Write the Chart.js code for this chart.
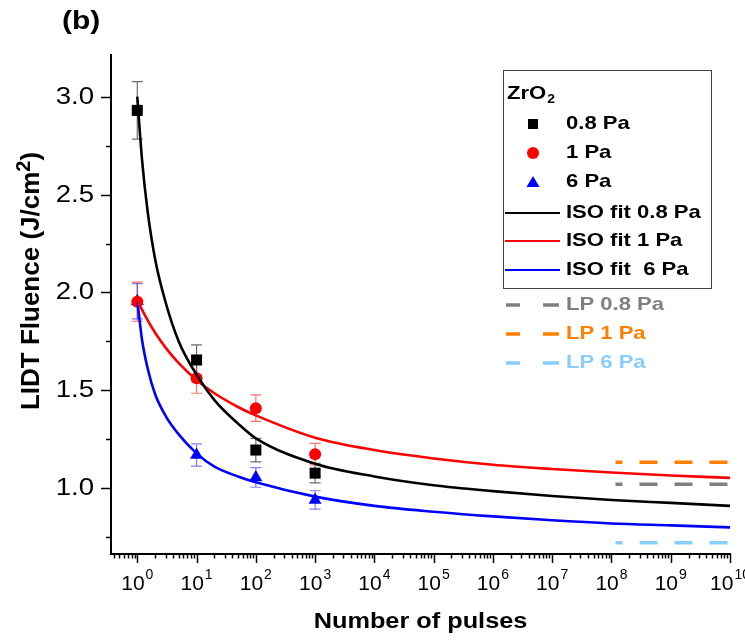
<!DOCTYPE html>
<html>
<head>
<meta charset="utf-8">
<script src="https://cdn.jsdelivr.net/npm/chart.js@4.4.1/dist/chart.umd.min.js"></script>
<style>
  html, body { margin: 0; padding: 0; background: #fff; }
</style>
</head>
<body>
<canvas id="lidtChart" width="745" height="642"></canvas>
<script>
// measured points (number of pulses vs LIDT fluence)
const pulses = [1, 10, 100, 1000];
const lidt08 = [2.93, 1.655, 1.195, 1.077];
const err08 = [0.147, 0.077, 0.06, 0.05];
const lidt1 = [1.953, 1.562, 1.409, 1.174];
const err1 = [0.1, 0.077, 0.068, 0.055];
const lidt6 = [1.955, 1.17, 1.055, 0.94];
const err6 = [0.09, 0.057, 0.05, 0.047];

// ISO fit curves
const fitPulses = [1, 1.2, 1.5, 2, 3, 5, 10, 20, 50, 100, 1e3, 1e4, 1e5, 1e6, 1e7, 1e8, 1e9, 1e10];
const fit08 = [3.0, 2.68, 2.41, 2.17, 1.95, 1.75, 1.58, 1.45, 1.33, 1.255, 1.125, 1.06, 1.015, 0.985, 0.96, 0.94, 0.925, 0.91];
const fit1 = [1.962, 1.912, 1.857, 1.794, 1.718, 1.639, 1.553, 1.485, 1.415, 1.372, 1.258, 1.195, 1.152, 1.12, 1.098, 1.08, 1.065, 1.053];
const fit6 = [1.96, 1.76, 1.61, 1.48, 1.37, 1.275, 1.178, 1.11, 1.06, 1.03, 0.957, 0.91, 0.88, 0.856, 0.836, 0.82, 0.81, 0.80];

// LP levels
const lpPulses = [1.17e8, 1e10];
const lp08 = [1.02, 1.02];
const lp1 = [1.133, 1.133];
const lp6 = [0.722, 0.722];

// axis ticks
const xDecades = [0, 1, 2, 3, 4, 5, 6, 7, 8, 9, 10];
const yTicks = [0.75, 1.0, 1.25, 1.5, 1.75, 2.0, 2.25, 2.5, 2.75, 3.0];

const FONT = "'Liberation Sans', Arial, sans-serif";
const toXY = (xs, ys) => xs.map((x, i) => ({ x: x, y: ys[i] }));

// draw text squeezed/stretched horizontally
function stretchText(ctx, txt, x, y, font, align, sx) {
  ctx.save();
  ctx.font = font;
  ctx.textBaseline = 'middle';
  ctx.textAlign = align;
  ctx.translate(x, y);
  ctx.scale(sx, 1);
  ctx.fillText(txt, 0, 0);
  ctx.restore();
}

const decorPlugin = {
  id: 'decor',
  beforeDatasetsDraw(chart) {
    const ctx = chart.ctx;
    const xs = chart.scales.x, ys = chart.scales.y;
    const bars = [
      [lidt08, err08, 'rgba(60,60,60,0.75)'],
      [lidt1, err1, 'rgba(255,40,40,0.65)'],
      [lidt6, err6, 'rgba(40,40,255,0.6)']
    ];
    ctx.save();
    ctx.lineWidth = 1.2;
    bars.forEach(([vals, errs, col]) => {
      ctx.strokeStyle = col;
      vals.forEach((v, i) => {
        const px = xs.getPixelForValue(pulses[i]);
        const top = ys.getPixelForValue(v + errs[i]);
        const bot = ys.getPixelForValue(v - errs[i]);
        ctx.beginPath();
        ctx.moveTo(px, top); ctx.lineTo(px, bot);
        ctx.moveTo(px - 5.5, top); ctx.lineTo(px + 5.5, top);
        ctx.moveTo(px - 5.5, bot); ctx.lineTo(px + 5.5, bot);
        ctx.stroke();
      });
    });
    ctx.restore();
  },
  afterDraw(chart) {
    const ctx = chart.ctx;
    const area = chart.chartArea;
    const xs = chart.scales.x, ys = chart.scales.y;
    ctx.save();
    ctx.fillStyle = '#000';
    ctx.strokeStyle = '#000';

    // axis lines
    ctx.lineWidth = 2;
    ctx.beginPath();
    ctx.moveTo(area.left, area.top);
    ctx.lineTo(area.left, area.bottom);
    ctx.lineTo(area.right + 1, area.bottom);
    ctx.stroke();

    // y ticks
    ctx.lineWidth = 1.5;
    yTicks.forEach(v => {
      const py = Math.round(ys.getPixelForValue(v)) + 0.5;
      const major = Math.abs(v * 2 - Math.round(v * 2)) < 1e-6;
      ctx.beginPath();
      ctx.moveTo(area.left, py);
      ctx.lineTo(area.left - (major ? 10 : 5), py);
      ctx.stroke();
      if (major) {
        stretchText(ctx, v.toFixed(1), area.left - 17, py, '24px ' + FONT, 'right', 1.15);
      }
    });

    // x ticks (log)
    for (let e = -1; e <= 10; e++) {
      for (let m = 1; m <= 9; m++) {
        const val = m * Math.pow(10, e);
        if (val < xs.min || val > xs.max * 1.0001) continue;
        const px = Math.round(xs.getPixelForValue(val)) + 0.5;
        ctx.beginPath();
        ctx.moveTo(px, area.bottom);
        ctx.lineTo(px, area.bottom + (m === 1 ? 9 : 4.5));
        ctx.stroke();
      }
    }
    xDecades.forEach(e => {
      const px = xs.getPixelForValue(Math.pow(10, e));
      ctx.font = '21px ' + FONT;
      const w1 = ctx.measureText('10').width;
      ctx.font = '14px ' + FONT;
      const w2 = ctx.measureText(String(e)).width;
      const x0 = px - (w1 + w2 + 1) / 2;
      ctx.textAlign = 'left';
      ctx.textBaseline = 'alphabetic';
      ctx.font = '21px ' + FONT;
      ctx.fillText('10', x0, area.bottom + 36);
      ctx.font = '14px ' + FONT;
      ctx.fillText(String(e), x0 + w1 + 1, area.bottom + 25);
    });

    // axis titles
    stretchText(ctx, 'Number of pulses', (area.left + area.right) / 2, 622, 'bold 22px ' + FONT, 'center', 1.15);
    stretchText(ctx, '(b)', 62, 22, 'bold 25px ' + FONT, 'left', 1.2);

    ctx.save();
    ctx.translate(32, 281);
    ctx.rotate(-Math.PI / 2);
    ctx.textBaseline = 'middle';
    ctx.textAlign = 'left';
    ctx.font = 'bold 26px ' + FONT;
    const t1 = 'LIDT Fluence (J/cm';
    const wa = ctx.measureText(t1).width;
    ctx.font = 'bold 20px ' + FONT;
    const wb = ctx.measureText('2').width;
    ctx.font = 'bold 26px ' + FONT;
    const wc = ctx.measureText(')').width;
    let sx = -(wa + wb + wc) / 2;
    ctx.fillText(t1, sx, 0);
    ctx.font = 'bold 20px ' + FONT;
    ctx.fillText('2', sx + wa, -8);
    ctx.font = 'bold 26px ' + FONT;
    ctx.fillText(')', sx + wa + wb, 0);
    ctx.restore();

    // legend
    ctx.lineWidth = 1;
    ctx.strokeStyle = '#444';
    ctx.strokeRect(503.5, 70.5, 208, 218);
    const lf = 'bold 19px ' + FONT;
    const ls = 1.16;
    stretchText(ctx, 'ZrO', 507, 94, lf, 'left', ls);
    ctx.font = lf;
    const zw = ctx.measureText('ZrO').width * ls;
    stretchText(ctx, '2', 507 + zw + 1, 100, 'bold 12px ' + FONT, 'left', ls);

    const mx = 533, tx = 566;
    ctx.fillStyle = '#000';
    ctx.fillRect(mx - 5, 124 - 5, 10, 10);
    stretchText(ctx, '0.8 Pa', tx, 124, lf, 'left', ls);
    ctx.fillStyle = '#ff0000';
    ctx.beginPath(); ctx.arc(mx, 153, 6, 0, Math.PI * 2); ctx.fill();
    ctx.fillStyle = '#000';
    stretchText(ctx, '1 Pa', tx, 153, lf, 'left', ls);
    ctx.fillStyle = '#0000ff';
    ctx.beginPath(); ctx.moveTo(mx, 176); ctx.lineTo(mx + 6.5, 187); ctx.lineTo(mx - 6.5, 187); ctx.closePath(); ctx.fill();
    ctx.fillStyle = '#000';
    stretchText(ctx, '6 Pa', tx, 182, lf, 'left', ls);

    const lines = [
      ['#000000', 'ISO fit 0.8 Pa', 213],
      ['#ff0000', 'ISO fit 1 Pa', 241],
      ['#0000ff', 'ISO fit  6 Pa', 270]
    ];
    ctx.lineWidth = 2;
    lines.forEach(([c, t, y]) => {
      ctx.strokeStyle = c;
      ctx.beginPath(); ctx.moveTo(505, y); ctx.lineTo(560, y); ctx.stroke();
      ctx.fillStyle = '#000';
      stretchText(ctx, t, tx, y, lf, 'left', ls);
    });

    const lps = [
      ['#808080', 'LP 0.8 Pa', 305],
      ['#ff8000', 'LP 1 Pa', 334],
      ['#87cefa', 'LP 6 Pa', 363]
    ];
    ctx.lineWidth = 3.5;
    lps.forEach(([c, t, y]) => {
      ctx.strokeStyle = c;
      ctx.beginPath();
      ctx.moveTo(506, y); ctx.lineTo(520, y);
      ctx.moveTo(543, y); ctx.lineTo(559, y);
      ctx.stroke();
      ctx.fillStyle = c;
      stretchText(ctx, t, tx, y, lf, 'left', ls);
    });
    ctx.restore();
  }
};

const fitLine = (label, data, color) => ({
  label: label,
  data: toXY(fitPulses, data),
  showLine: true,
  borderColor: color,
  borderWidth: 2.6,
  pointRadius: 0,
  cubicInterpolationMode: 'monotone',
  fill: false,
  order: 0
});

const lpLine = (label, data, color) => ({
  label: label,
  data: toXY(lpPulses, data),
  showLine: true,
  borderColor: color,
  borderWidth: 3.5,
  borderDash: [18, 17],
  borderDashOffset: 11,
  pointRadius: 0,
  fill: false,
  order: 2
});

const ctx = document.getElementById('lidtChart').getContext('2d');
const lidtChart = new Chart(ctx, {
  type: 'scatter',
  data: {
    datasets: [
      { label: '0.8 Pa', data: toXY(pulses, lidt08), pointStyle: 'rect', pointRadius: 7.8,
        backgroundColor: '#000', borderColor: '#000', borderWidth: 0, order: 1 },
      { label: '1 Pa', data: toXY(pulses, lidt1), pointStyle: 'circle', pointRadius: 6,
        backgroundColor: '#ff0000', borderColor: '#ff0000', borderWidth: 0, order: 1 },
      { label: '6 Pa', data: toXY(pulses, lidt6), pointStyle: 'triangle', pointRadius: 7.5,
        backgroundColor: '#0000ff', borderColor: '#0000ff', borderWidth: 0, order: 1 },
      fitLine('ISO fit 0.8 Pa', fit08, '#000000'),
      fitLine('ISO fit 1 Pa', fit1, '#ff0000'),
      fitLine('ISO fit 6 Pa', fit6, '#0000ff'),
      lpLine('LP 0.8 Pa', lp08, '#808080'),
      lpLine('LP 1 Pa', lp1, '#ff8000'),
      lpLine('LP 6 Pa', lp6, '#87cefa')
    ]
  },
  options: {
    responsive: false,
    animation: false,
    devicePixelRatio: 1,
    layout: { padding: { left: 111, top: 54, right: 15, bottom: 88 } },
    plugins: { legend: { display: false }, tooltip: { enabled: false } },
    scales: {
      x: { type: 'logarithmic', min: 0.36, max: 1e10, display: false },
      y: { type: 'linear', min: 0.664, max: 3.218, display: false }
    }
  },
  plugins: [decorPlugin]
});
</script>
</body>
</html>
